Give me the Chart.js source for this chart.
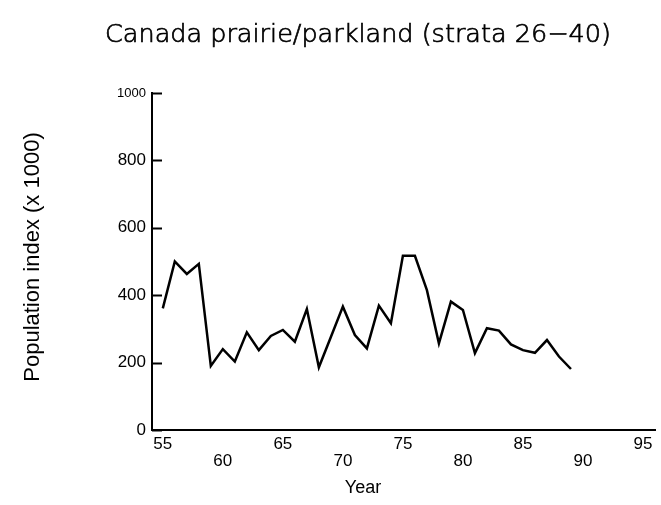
<!DOCTYPE html>
<html>
<head>
<meta charset="utf-8">
<title>Canada prairie/parkland (strata 26-40)</title>
<script src="https://cdn.jsdelivr.net/npm/chart.js@4/dist/chart.umd.min.js"></script>
<style>
  html, body { margin: 0; padding: 0; background: #fff; }
  #wrap { width: 661px; height: 505px; }
</style>
</head>
<body>
<div id="wrap"><canvas id="chart" width="661" height="505"></canvas></div>
<script>
// Data
const years = [55, 56, 57, 58, 59, 60, 61, 62, 63, 64, 65, 66, 67, 68, 69, 70, 71, 72,
  73, 74, 75, 76, 77, 78, 79, 80, 81, 82, 83, 84, 85, 86, 87, 88, 89];
const populationIndex = [361, 500, 463, 493, 190, 240, 203, 290, 237, 279, 297, 262, 359, 186,
  276, 366, 282, 242, 369, 317, 517, 517, 415, 257, 381, 356, 228, 302, 295, 254, 237, 229, 267, 218, 181];
const xTicks = [55, 60, 65, 70, 75, 80, 85, 90, 95];

const chartTitle = "Canada prairie/parkland (strata 26\u221240)";
const yTitle = "Population index (x 1000)";
const xTitle = "Year";

// Titles are placed by hand, the reference does not centre them on the plot.
// Also draws the y tick marks pointing into the plot.
const titlesPlugin = {
  id: "titles",
  afterDraw(chart) {
    const c = chart.ctx;
    const yScale = chart.scales.y;
    c.save();

    c.strokeStyle = "#000";
    c.lineWidth = 2;
    yScale.ticks.forEach((t) => {
      const py = Math.round(yScale.getPixelForValue(t.value)) + 0.5;
      c.beginPath();
      c.moveTo(yScale.right, py);
      c.lineTo(yScale.right + 10, py);
      c.stroke();
    });

    c.fillStyle = "#000";
    c.textAlign = "center";
    c.textBaseline = "middle";

    c.font = '200 25.5px "DejaVu Sans"';
    c.lineWidth = 0.7;
    c.fillText(chartTitle, 358, 35);
    c.strokeText(chartTitle, 358, 35);

    c.font = '18px "Liberation Sans"';
    c.fillText(xTitle, 363, 488);

    c.translate(33, 257);
    c.rotate(-Math.PI / 2);
    c.font = '22px "Liberation Sans"';
    c.fillText(yTitle, 0, 0);
    c.restore();
  }
};

new Chart(document.getElementById("chart"), {
  type: "line",
  data: {
    datasets: [{
      data: years.map((y, i) => ({ x: y, y: populationIndex[i] })),
      borderColor: "#000",
      borderWidth: 2.5,
      pointRadius: 0,
      tension: 0,
      fill: false
    }]
  },
  options: {
    responsive: false,
    animation: false,
    layout: { padding: { top: 93, right: 6, left: 0, bottom: 0 } },
    plugins: {
      legend: { display: false },
      tooltip: { enabled: false }
    },
    scales: {
      x: {
        type: "linear",
        min: 54.1,
        max: 96,
        afterBuildTicks: (scale) => {
          scale.ticks = xTicks.map((v) => ({ value: v }));
        },
        afterFit: (scale) => { scale.height = 75; },
        grid: { display: false, drawTicks: false },
        border: { display: true, color: "#000", width: 2 },
        ticks: {
          color: "#000",
          padding: 6,
          maxRotation: 0,
          autoSkip: false,
          font: { family: "Liberation Sans", size: 17, lineHeight: "17px" },
          // alternate labels drop to a second row
          callback: (value, index) => (index % 2 === 0 ? String(value) : ["", String(value)])
        }
      },
      y: {
        min: 0,
        max: 1000,
        afterFit: (scale) => { scale.width = 152; },
        grid: { drawOnChartArea: false, drawTicks: false },
        border: { display: true, color: "#000", width: 2 },
        ticks: {
          stepSize: 200,
          color: "#000",
          padding: 6,
          callback: (value) => String(value),
          font: (ctx) => ({
            family: "Liberation Sans",
            size: ctx.tick && ctx.tick.value === 1000 ? 13 : 17
          })
        }
      }
    }
  },
  plugins: [titlesPlugin]
});
</script>
</body>
</html>
